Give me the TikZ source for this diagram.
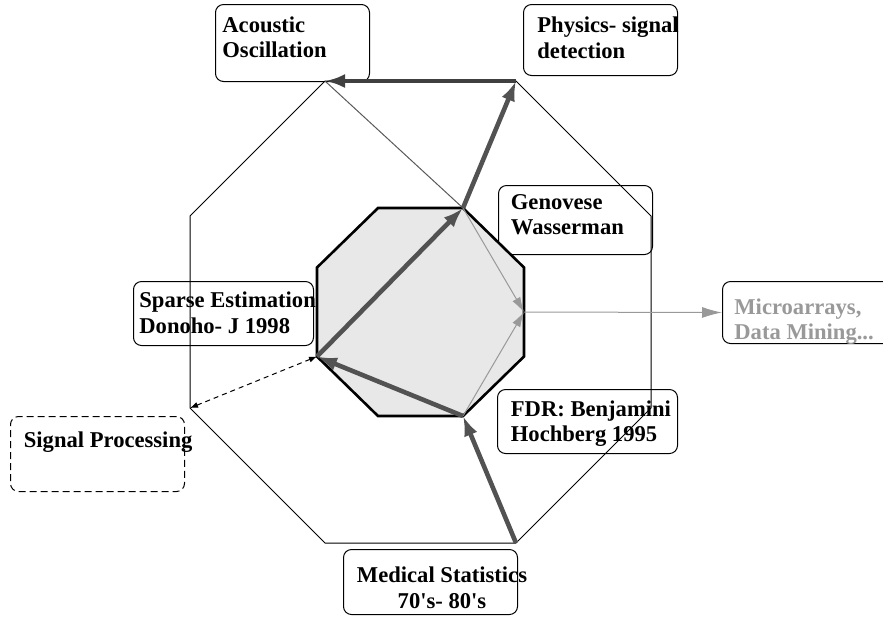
\documentclass[tikz,border=0pt]{standalone}
\usepackage{fontspec}
\setmainfont{Liberation Serif}
\usetikzlibrary{arrows.meta}
\colorlet{inkdark}{black!68}
\colorlet{inklight}{black!40}
\colorlet{octfill}{black!9}
\tikzset{map/rim/.style={black, line width=0.5pt},
  map/core/.style={black, line width=1.3pt, fill=octfill},
  map/box/.style={draw, rounded corners=4pt, line width=0.5pt, inner sep=0pt, anchor=north west},
  map/txt/.style={anchor=north west, inner sep=0pt, align=left, font=\fontsize{11.3}{12.8}\selectfont\bfseries},
  map/flow/.style={inkdark, line width=2.3pt, -{Latex[length=10pt,width=7pt]}},
  map/fade/.style={inklight, line width=0.5pt, -{Latex[length=7.5pt,width=4.5pt]}},
  map/link/.style={black!65, line width=0.5pt},
  map/dash/.style={black, line width=0.5pt, dash pattern=on 2.5pt off 2pt, {Latex[length=4pt,width=3pt]}-{Latex[length=4pt,width=3pt]}}}

\begin{document}
\begin{tikzpicture}[x=0.5pt, y=-0.5pt]
  \useasboundingbox (0,0) rectangle (883,618);
  \clip (0,0) rectangle (883,618);
\coordinate (oA) at (325,81);
\coordinate (oB) at (516,81);
\coordinate (oC) at (651,216);
\coordinate (oD) at (651,408);
\coordinate (oE) at (516,543);
\coordinate (oF) at (325,543);
\coordinate (oG) at (190,408);
\coordinate (oH) at (190,216);
\coordinate (iA) at (378,208);
\coordinate (iB) at (463,208);
\coordinate (iC) at (524,267.5);
\coordinate (iR) at (524,312);
\coordinate (iD) at (524,356.5);
\coordinate (iE) at (463,416);
\coordinate (iF) at (378,416);
\coordinate (iG) at (317,356.5);
\coordinate (iH) at (317,267.5);
\draw[map/rim] (oA) -- (oB) -- (oC) -- (oD) -- (oE) -- (oF) -- (oG) -- (oH) -- cycle;
\node[map/box, minimum width=77pt, minimum height=38.5pt] (acoustic) at (215,4) {};
\node[map/box, minimum width=77pt, minimum height=35.5pt] (physics) at (523,4) {};
\node[map/box, minimum width=77pt, minimum height=34.5pt] (genovese) at (498,185) {};
\node[map/box, minimum width=90pt, minimum height=32pt] (sparse) at (133,281) {};
\node[map/box, dash pattern=on 3.5pt off 2pt, minimum width=87pt, minimum height=37.5pt] (sigproc) at (10,416) {};
\node[map/box, minimum width=90pt, minimum height=32pt] (fdr) at (497,389) {};
\node[map/box, minimum width=87pt, minimum height=32.5pt] (medical) at (343,549) {};
\node[map/box, minimum width=90pt, minimum height=31pt] (micro) at (722,281) {};
\draw[map/core] (iA) -- (iB) -- (iC) -- (iD) -- (iE) -- (iF) -- (iG) -- (iH) -- cycle;
\draw[map/link] (iB) -- (oA);
\draw[map/fade] (iB) -- (iR);
\draw[map/fade] (iE) -- (iR);
\draw[map/fade, -{Latex[length=10pt,width=5.5pt]}] (iR) -- (micro.west);
\draw[map/dash] (iG) -- (oG);
\draw[map/flow] (iG) -- (iB);
\draw[map/flow] (iB) -- (oB);
\draw[map/flow, black!75] (oB) -- (oA);
\draw[map/flow] (oE) -- (iE);
\draw[map/flow] (iE) -- (iG);
\node[map/txt] (acoustictxt) at (222,16) {Acoustic\\Oscillation};
\node[map/txt] (physicstxt) at (537,16.5) {Physics- signal\\detection};
\node[map/txt] (genovesetxt) at (510.5,194) {Genovese\\Wasserman};
\node[map/txt] (sparsetxt) at (139,291.5) {Sparse Estimation\\Donoho- J 1998};
\node[map/txt] (sigproctxt) at (23.5,431) {Signal Processing};
\node[map/txt] (fdrtxt) at (510.5,400) {FDR: Benjamini\\Hochberg 1995};
\node[map/txt, anchor=north, align=center] (medicaltxt) at (442,566.5) {Medical Statistics\\70\textquotesingle s- 80\textquotesingle s};
\node[map/txt, text=inklight] (microtxt) at (734,298) {Microarrays,\\Data Mining...};
\end{tikzpicture}
\end{document}
